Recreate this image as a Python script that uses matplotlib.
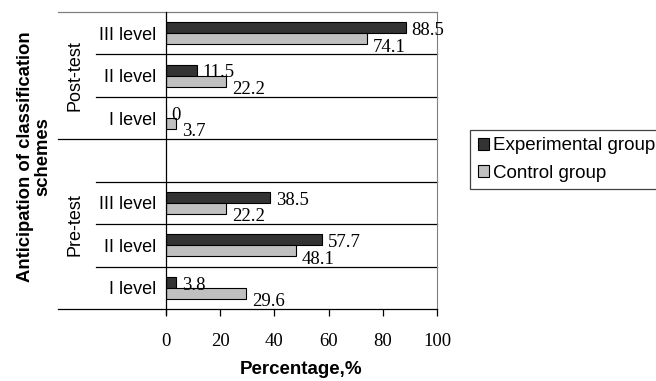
import matplotlib
matplotlib.use("Agg")
import matplotlib.pyplot as plt
import numpy as np

# rows from top to bottom, "" is the empty spacer row
levels = ["III level", "II level", "I level", "", "III level", "II level", "I level"]
experimental = [88.5, 11.5, 0, None, 38.5, 57.7, 3.8]
control = [74.1, 22.2, 3.7, None, 22.2, 48.1, 29.6]
groups = ["Post-test", "Pre-test"]
group_spans = [(0, 3), (3, 7)]
xticks = [0, 20, 40, 60, 80, 100]

dark = "#333333"
light = "#c0c0c0"
serif = "Liberation Serif"
sans = "Liberation Sans"

fig = plt.figure(figsize=(6.56, 3.81), dpi=100)
ax = fig.add_axes([166 / 656, 1 - 309 / 381, 271 / 656, 297 / 381])

n = len(levels)
centers = np.arange(n) + 0.5
bh = 0.26
for i, (e, c) in enumerate(zip(experimental, control)):
    if e is None:
        continue
    ax.barh(centers[i] - bh / 2, e, height=bh, color=dark, edgecolor="black", linewidth=0.8)
    ax.barh(centers[i] + bh / 2, c, height=bh, color=light, edgecolor="black", linewidth=0.8)
    ax.annotate(f"{e:g}", (e, centers[i] - bh / 2), xytext=(4, -2), textcoords="offset points",
                ha="left", va="center", fontsize=13.5, family=serif)
    ax.annotate(f"{c:g}", (c, centers[i] + bh / 2), xytext=(4, -6), textcoords="offset points",
                ha="left", va="center", fontsize=13.5, family=serif)

ax.set_xlim(0, 100)
ax.set_ylim(n, 0)

# row separators, extended to the left into the category area
ytr = ax.get_yaxis_transform()
group_edges = {0, 3, 7}
for k in range(n):
    x0 = -0.40 if k in group_edges else -0.26
    col = "#808080" if k == 0 else "black"
    ax.plot([x0, 1], [k, k], transform=ytr, color=col, lw=0.9, clip_on=False)
ax.plot([-0.40, 0], [n, n], transform=ytr, color="black", lw=0.9, clip_on=False)

ax.spines["top"].set_visible(False)
ax.spines["right"].set_color("#808080")
ax.spines["left"].set_bounds(n + 0.12, 0)
ax.spines["left"].set_linewidth(0.9)
ax.spines["bottom"].set_linewidth(0.9)

ax.set_yticks(centers)
ax.set_yticklabels(levels, fontsize=13, family=sans)
ax.tick_params(axis="y", length=0, pad=7)
ax.set_xticks(xticks)
ax.set_xticklabels([str(t) for t in xticks], fontsize=13.5, family=serif)
ax.tick_params(axis="x", length=5, width=0.9, pad=12, direction="out")

for g, (a, b) in zip(groups, group_spans):
    ax.text(-0.335, (a + b) / 2, g, transform=ytr, rotation=90, ha="center", va="center",
            fontsize=13, family=sans)

ax.set_xlabel("Percentage,%", fontsize=13.5, family=sans, fontweight="bold", labelpad=8)
fig.text(34 / 656, 1 - 157 / 381, "Anticipation of classification\nschemes", rotation=90,
         ha="center", va="center", fontsize=13.3, family=sans, fontweight="bold", linespacing=1.0)

h1 = plt.Rectangle((0, 0), 1, 1, facecolor=dark, edgecolor="black", lw=0.8)
h2 = plt.Rectangle((0, 0), 1, 1, facecolor=light, edgecolor="black", lw=0.8)
leg = fig.legend([h1, h2], ["Experimental group", "Control group"], loc="upper left",
                 bbox_to_anchor=(470 / 656, 1 - 130 / 381), prop={"family": sans, "size": 13.5},
                 handlelength=0.6, handleheight=0.6, handletextpad=0.25, borderpad=0.4,
                 labelspacing=0.55, fancybox=False, framealpha=1, borderaxespad=0)
leg.get_frame().set_edgecolor("#404040")
leg.get_frame().set_linewidth(0.9)

fig.savefig("out.png", dpi=100)
